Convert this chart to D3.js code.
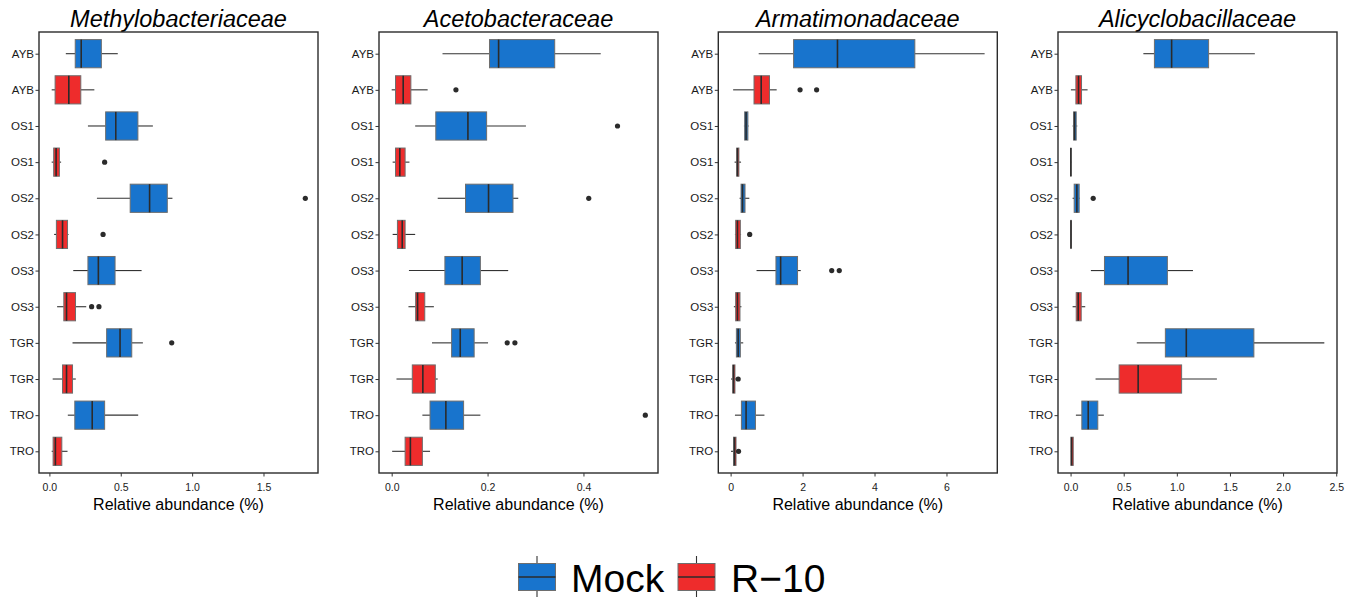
<!DOCTYPE html>
<html>
<head>
<meta charset="utf-8">
<script src="https://cdn.jsdelivr.net/npm/d3@7"></script>
<style>
  html, body { margin: 0; padding: 0; background: #fff; }
  svg { display: block; font-family: "Liberation Sans", Arial, Helvetica, sans-serif; }
</style>
</head>
<body>
<svg id="chart" width="1357" height="597"></svg>
<script>
// ---------------- DATA ----------------
const families = ["Methylobacteriaceae", "Acetobacteraceae", "Armatimonadaceae", "Alicyclobacillaceae"];
const sites = ["AYB", "OS1", "OS2", "OS3", "TGR", "TRO"];
const groups = ["Mock", "R\u221210"];
const groupColors = ["#1874CD", "#EE2C2C"];

// five-number summaries per site: [whiskerLow, Q1, median, Q3, whiskerHigh]
const methyloMock = [[0.115,0.181,0.223,0.364,0.479],[0.270,0.394,0.465,0.620,0.725],[0.333,0.566,0.702,0.826,0.862],[0.167,0.270,0.343,0.460,0.646],[0.162,0.401,0.495,0.577,0.655],[0.129,0.178,0.300,0.387,0.622]];
const methyloR10  = [[0.016,0.040,0.136,0.220,0.315],[0.016,0.030,0.047,0.070,0.082],[0.033,0.049,0.092,0.127,0.134],[0.054,0.101,0.120,0.183,0.258],[0.023,0.092,0.120,0.162,0.185],[0.016,0.026,0.042,0.087,0.127]];
const acetoMock = [[0.106,0.204,0.223,0.340,0.436],[0.049,0.092,0.159,0.198,0.280],[0.096,0.154,0.202,0.253,0.264],[0.036,0.111,0.147,0.185,0.243],[0.084,0.125,0.143,0.172,0.201],[0.064,0.080,0.113,0.150,0.185]];
const acetoR10  = [[0.000,0.008,0.024,0.040,0.075],[0.002,0.008,0.017,0.028,0.037],[0.002,0.012,0.022,0.028,0.049],[0.035,0.050,0.054,0.069,0.088],[0.010,0.043,0.065,0.091,0.096],[0.001,0.028,0.039,0.064,0.080]];
const armatiMock = [[0.78,1.75,2.97,5.12,7.06],[0.37,0.39,0.43,0.48,0.50],[0.25,0.29,0.33,0.40,0.52],[0.72,1.26,1.39,1.86,1.95],[0.12,0.16,0.21,0.27,0.35],[0.12,0.30,0.43,0.69,0.94]];
const armatiR10  = [[0.07,0.65,0.85,1.08,1.28],[0.11,0.17,0.19,0.23,0.29],[0.12,0.14,0.19,0.27,0.29],[0.09,0.14,0.19,0.26,0.30],[0.01,0.06,0.08,0.12,0.14],[0.01,0.08,0.11,0.15,0.15]];
const alicycloMock = [[0.685,0.789,0.951,1.299,1.734],[0.019,0.028,0.038,0.053,0.063],[0.019,0.034,0.059,0.081,0.088],[0.191,0.319,0.541,0.911,1.152],[0.623,0.892,1.089,1.725,2.388],[0.050,0.106,0.166,0.256,0.313]];
const alicycloR10  = [[0.003,0.050,0.075,0.103,0.160],[0.001,0.002,0.003,0.004,0.006],[0.002,0.003,0.004,0.005,0.006],[0.019,0.053,0.072,0.100,0.138],[0.235,0.457,0.636,1.045,1.377],[0.002,0.003,0.010,0.025,0.025]];

// outliers per site (arrays of values)
const methyloMockOut = [[],[],[1.793],[],[0.857],[]];
const methyloR10Out  = [[],[0.387],[0.376],[0.296,0.347],[],[]];
const acetoMockOut = [[],[0.471],[0.411],[],[0.241,0.257],[0.529]];
const acetoR10Out  = [[0.134],[],[],[],[],[]];
const armatiMockOut = [[],[],[],[2.81,3.02],[],[]];
const armatiR10Out  = [[1.93,2.39],[],[0.53],[],[0.21],[0.22]];
const alicycloMockOut = [[],[],[0.213],[],[],[]];
const alicycloR10Out  = [[],[],[],[],[],[]];

// x-axis tick values per panel
const ticksMethylo = [0, 0.5, 1.0, 1.5];
const ticksAceto = [0, 0.2, 0.4];
const ticksArmati = [0, 2, 4, 6];
const ticksAlicyclo = [0, 0.5, 1.0, 1.5, 2.0, 2.5];
const tickFormats = [".1f", ".1f", ".0f", ".1f"];
const xTitle = "Relative abundance (%)";

const panelStats = [[methyloMock, methyloR10],[acetoMock, acetoR10],[armatiMock, armatiR10],[alicycloMock, alicycloR10]];
const panelOut = [[methyloMockOut, methyloR10Out],[acetoMockOut, acetoR10Out],[armatiMockOut, armatiR10Out],[alicycloMockOut, alicycloR10Out]];
const panelTicks = [ticksMethylo, ticksAceto, ticksArmati, ticksAlicyclo];

// ---------------- LAYOUT ----------------
const svg = d3.select("#chart");
const panelW = 279, plotTop = 32, plotBottom = 473;
const panelLefts = [39, 379, 718.3, 1058];

// row keys: site|group, top to bottom
const rowKeys = [];
sites.forEach(s => groups.forEach((g, gi) => rowKeys.push(s + "|" + gi)));

const y = d3.scalePoint().domain(rowKeys).range([plotTop, plotBottom]).padding(0.6);
const boxH = y.step() * 0.78;

families.forEach((fam, pi) => {
  const left = panelLefts[pi];
  const stats = panelStats[pi], outs = panelOut[pi];
  // ggplot-like 5% expansion
  const allVals = [];
  stats.forEach(gs => gs.forEach(r => allVals.push(...r)));
  outs.forEach(gs => gs.forEach(r => allVals.push(...r)));
  const mn = d3.min(allVals), mx = d3.max(allVals), w = mx - mn;
  const x = d3.scaleLinear().domain([mn - 0.05 * w, mx + 0.05 * w]).range([left, left + panelW]);

  const g = svg.append("g");

  // title
  g.append("text")
    .attr("x", left + panelW / 2).attr("y", 27)
    .attr("text-anchor", "middle")
    .attr("font-style", "italic")
    .attr("font-size", "23.5px")
    .attr("fill", "#000")
    .text(fam);

  // boxes
  const rows = [];
  sites.forEach((s, si) => groups.forEach((gr, gi) => {
    rows.push({ key: s + "|" + gi, st: stats[gi][si], out: outs[gi][si], color: groupColors[gi] });
  }));

  const rg = g.selectAll("g.row").data(rows).enter().append("g").attr("class", "row");
  rg.append("line")
    .attr("x1", d => x(d.st[0])).attr("x2", d => x(d.st[1]))
    .attr("y1", d => y(d.key)).attr("y2", d => y(d.key))
    .attr("stroke", "#333").attr("stroke-width", 1.1);
  rg.append("line")
    .attr("x1", d => x(d.st[3])).attr("x2", d => x(d.st[4]))
    .attr("y1", d => y(d.key)).attr("y2", d => y(d.key))
    .attr("stroke", "#333").attr("stroke-width", 1.1);
  rg.append("rect")
    .attr("x", d => x(d.st[1])).attr("width", d => Math.max(0, x(d.st[3]) - x(d.st[1])))
    .attr("y", d => y(d.key) - boxH / 2).attr("height", boxH)
    .attr("fill", d => d.color)
    .attr("stroke", "#6e6e6e").attr("stroke-width", 1);
  rg.append("line")
    .attr("x1", d => x(d.st[2])).attr("x2", d => x(d.st[2]))
    .attr("y1", d => y(d.key) - boxH / 2).attr("y2", d => y(d.key) + boxH / 2)
    .attr("stroke", "#2b2b2b").attr("stroke-width", 1.6);
  rg.selectAll("circle").data(d => d.out.map(v => ({ v, key: d.key }))).enter().append("circle")
    .attr("cx", d => x(d.v)).attr("cy", d => y(d.key)).attr("r", 2.6)
    .attr("fill", "#2b2b2b");

  // frame
  g.append("rect")
    .attr("x", left).attr("y", plotTop).attr("width", panelW).attr("height", plotBottom - plotTop)
    .attr("fill", "none").attr("stroke", "#2b2b2b").attr("stroke-width", 1.4);

  // y axis
  const ya = g.append("g").attr("transform", `translate(${left},0)`)
    .call(d3.axisLeft(y).tickSize(3.5).tickPadding(1.5).tickFormat(k => k.split("|")[0]));
  ya.select(".domain").remove();
  ya.selectAll("line").attr("stroke", "#333");
  ya.selectAll("text").attr("font-size", "11.5px").attr("fill", "#1a1a1a")
    .attr("font-family", '"Liberation Sans", Arial, sans-serif');

  // x axis
  const xa = g.append("g").attr("transform", `translate(0,${plotBottom})`)
    .call(d3.axisBottom(x).tickValues(panelTicks[pi]).tickSize(3.5).tickPadding(7).tickFormat(d3.format(tickFormats[pi])));
  xa.select(".domain").remove();
  xa.selectAll("line").attr("stroke", "#333");
  xa.selectAll("text").attr("font-size", "10.5px").attr("fill", "#1a1a1a")
    .attr("font-family", '"Liberation Sans", Arial, sans-serif');

  // x title
  g.append("text")
    .attr("x", left + panelW / 2).attr("y", 510)
    .attr("text-anchor", "middle")
    .attr("font-size", "16px").attr("fill", "#000")
    .text(xTitle);
});

// ---------------- LEGEND ----------------
const legend = svg.append("g");
const keyW = 37, keyH = 27, keyTop = 563.5;
const legendItems = [{ label: groups[0], color: groupColors[0], x: 518.5, tx: 571 }, { label: groups[1], color: groupColors[1], x: 678, tx: 731 }];
legendItems.forEach(it => {
  const cx = it.x + keyW / 2;
  legend.append("line").attr("x1", cx).attr("x2", cx).attr("y1", 556).attr("y2", keyTop)
    .attr("stroke", "#333").attr("stroke-width", 1.1);
  legend.append("line").attr("x1", cx).attr("x2", cx).attr("y1", keyTop + keyH).attr("y2", 597)
    .attr("stroke", "#333").attr("stroke-width", 1.1);
  legend.append("rect").attr("x", it.x).attr("y", keyTop).attr("width", keyW).attr("height", keyH)
    .attr("fill", it.color).attr("stroke", "#6e6e6e").attr("stroke-width", 1);
  legend.append("line").attr("x1", it.x).attr("x2", it.x + keyW).attr("y1", keyTop + keyH / 2).attr("y2", keyTop + keyH / 2)
    .attr("stroke", "#2b2b2b").attr("stroke-width", 1.6);
  legend.append("text").attr("x", it.tx).attr("y", 592)
    .attr("font-size", "39px").attr("fill", "#000").text(it.label);
});
</script>
</body>
</html>
